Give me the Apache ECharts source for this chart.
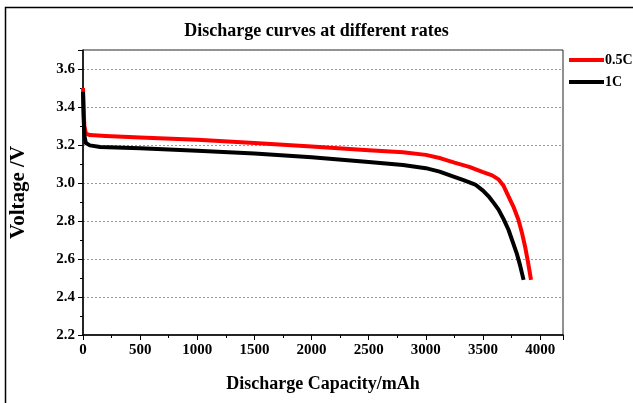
<!DOCTYPE html>
<html>
<head>
<meta charset="utf-8">
<script src="https://cdn.jsdelivr.net/npm/echarts@6/dist/echarts.min.js"></script>
<style>
  html, body { margin: 0; padding: 0; background: #ffffff; }
  #main { width: 633px; height: 403px; }
</style>
</head>
<body>
<div id="main"></div>
<script>
// capacity (mAh) / voltage (V)
var cap05 = [0, 5, 12, 25, 60, 200, 500, 1000, 1500, 2000, 2500, 2800, 3000, 3130, 3250, 3380, 3500, 3580, 3636, 3680, 3723, 3770, 3810, 3840, 3868, 3895, 3920];
var volt05 = [3.50, 3.40, 3.30, 3.26, 3.252, 3.247, 3.24, 3.227, 3.21, 3.192, 3.173, 3.162, 3.148, 3.13, 3.107, 3.085, 3.057, 3.04, 3.019, 2.985, 2.93, 2.87, 2.807, 2.74, 2.666, 2.58, 2.49];

var cap1 = [0, 5, 12, 25, 60, 150, 500, 1000, 1500, 2000, 2500, 2800, 3000, 3120, 3230, 3330, 3432, 3500, 3549, 3600, 3636, 3680, 3723, 3760, 3795, 3825, 3855];
var volt1 = [3.48, 3.35, 3.25, 3.21, 3.198, 3.19, 3.183, 3.17, 3.155, 3.135, 3.11, 3.095, 3.078, 3.06, 3.036, 3.015, 2.992, 2.96, 2.93, 2.89, 2.86, 2.81, 2.754, 2.69, 2.63, 2.565, 2.49];

var seriesNames = ['0.5C', '1C'];
var seriesColors = ['#ff0000', '#000000'];

function pairs(xs, ys) {
  return xs.map(function (x, i) { return [x, ys[i]]; });
}

var chart = echarts.init(document.getElementById('main'), null, { renderer: 'canvas' });

var serif = 'Liberation Serif';

var option = {
  backgroundColor: '#ffffff',
  animation: false,
  title: {
    text: 'Discharge curves at different rates',
    left: 'center',
    top: 17,
    textStyle: { fontFamily: serif, fontWeight: 'bold', fontSize: 18, color: '#000' }
  },
  legend: {
    orient: 'vertical',
    left: 569,
    top: 53,
    icon: 'rect',
    itemWidth: 35,
    itemHeight: 4,
    itemGap: 8,
    padding: 0,
    data: seriesNames,
    textStyle: { fontFamily: serif, fontWeight: 'bold', fontSize: 14, color: '#000', padding: [0, 0, 0, -4] }
  },
  grid: {
    left: 82,
    right: 70,
    top: 50,
    bottom: 68,
    show: true,
    borderColor: '#222',
    borderWidth: 1
  },
  xAxis: {
    type: 'value',
    min: 0,
    max: 4200,
    interval: 500,
    name: 'Discharge Capacity/mAh',
    nameLocation: 'middle',
    nameGap: 40,
    nameTextStyle: { fontFamily: serif, fontWeight: 'bold', fontSize: 18, color: '#000' },
    axisLine: { lineStyle: { color: '#000', width: 1.5 } },
    axisTick: { inside: false, length: 5, lineStyle: { color: '#000' } },
    minorTick: { show: true, splitNumber: 2, length: 3, lineStyle: { color: '#000' } },
    axisLabel: {
      showMaxLabel: false,
      margin: 8,
      fontFamily: serif,
      fontWeight: 'bold',
      fontSize: 15,
      color: '#000',
      formatter: function (v) { return String(v); }
    },
    splitLine: { show: false }
  },
  yAxis: {
    type: 'value',
    min: 2.2,
    max: 3.7,
    interval: 0.2,
    name: 'Voltage /V',
    nameLocation: 'middle',
    nameGap: 54,
    nameTextStyle: { fontFamily: serif, fontWeight: 'bold', fontSize: 21, color: '#000' },
    axisLine: { lineStyle: { color: '#000', width: 1.5 } },
    axisTick: { inside: false, length: 5, lineStyle: { color: '#000' } },
    minorTick: { show: true, splitNumber: 2, length: 3, lineStyle: { color: '#000' } },
    axisLabel: {
      showMaxLabel: false,
      margin: 8,
      fontFamily: serif,
      fontWeight: 'bold',
      fontSize: 15,
      color: '#000',
      formatter: function (v) { return v.toFixed(1); }
    },
    splitLine: { show: true, lineStyle: { color: '#999', type: [2, 2], width: 1 } }
  },
  series: [
    {
      name: seriesNames[0],
      type: 'line',
      data: pairs(cap05, volt05),
      showSymbol: false,
      symbol: 'none',
      smooth: false,
      color: seriesColors[0],
      lineStyle: { width: 4, color: seriesColors[0], join: 'round' },
      z: 3
    },
    {
      name: seriesNames[1],
      type: 'line',
      data: pairs(cap1, volt1),
      showSymbol: false,
      symbol: 'none',
      smooth: false,
      color: seriesColors[1],
      lineStyle: { width: 4, color: seriesColors[1], join: 'round' },
      z: 4
    }
  ],
  graphic: [{
    type: 'rect',
    shape: { x: 5.5, y: 7.5, width: 700, height: 500 },
    style: { fill: null, stroke: '#000', lineWidth: 1.5 },
    silent: true
  }]
};

chart.setOption(option);
</script>
</body>
</html>
